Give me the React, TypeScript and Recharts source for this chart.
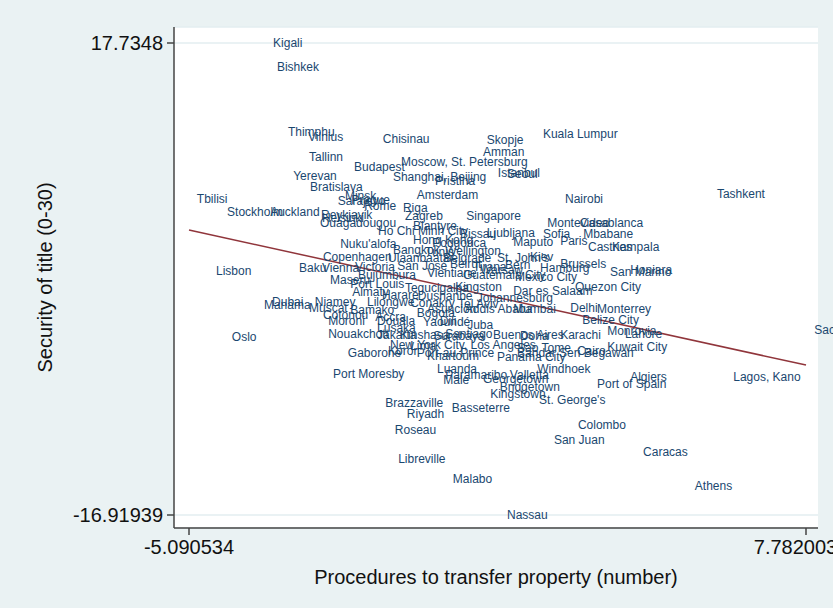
import React from "react";
import {
  ScatterChart,
  Scatter,
  XAxis,
  YAxis,
  CartesianGrid,
  ReferenceLine,
  Label,
} from "recharts";

// city labels
const cities = [
  "Kigali", "Bishkek", "Thimphu", "Vilnius", "Chisinau", "Skopje", "Kuala Lumpur", "Amman",
  "Tallinn", "Moscow, St. Petersburg", "Budapest", "Yerevan", "Shanghai, Beijing", "Pristina",
  "Istanbul", "Seoul", "Bratislava", "Amsterdam", "Nairobi", "Tashkent", "Tbilisi", "Minsk",
  "Sarajevo", "Prague", "Rome", "Riga", "Stockholm", "Auckland", "Reykjavik", "Helsinki",
  "Ouagadougou", "Zagreb", "Singapore", "Montevideo", "Casablanca", "Mbabane", "Paris",
  "Castries", "Kampala", "Blantyre", "Ho Chi Minh City", "Bissau", "Ljubljana", "Sofia",
  "Maputo", "Hong Kong", "Podgorica", "Nuku'alofa", "Bangkok", "Tunis", "Wellington",
  "Copenhagen", "Ulaanbaatar", "Belgrade", "St. John's", "Kiev", "Brussels", "Honiara",
  "San Marino", "Lisbon", "Baku", "Vienna", "Victoria", "San José", "Tirana", "Hamburg",
  "Bujumbura", "Vientiane", "Guatemala City", "Mexico City", "Maseru", "Port Louis",
  "Kingston", "Almaty", "Harare", "Dushanbe", "Johannesburg", "Dar es Salaam", "Quezon City",
  "Dubai", "Manama", "Niamey", "Lilongwe", "Muscat", "Bamako", "Tel Aviv", "Asuncion",
  "Addis Ababa", "Mumbai", "Delhi", "Monterrey", "Bogota", "Cotonou", "Accra", "Moroni",
  "Douala", "Yaoundé", "Juba", "Belize City", "Lusaka", "Monrovia", "Nouakchott", "Jakarta",
  "Surabaya", "Santiago", "Buenos Aires", "Doha", "Karachi", "Lahore",
  "New York City, Los Angeles", "Sao Tome", "Kuwait City", "Gaborone", "Koror",
  "Port-au-Prince", "Khartoum", "Panama City", "Bandar Seri Begawan", "Cairo", "Windhoek",
  "Port Moresby", "Luanda", "Paramaribo", "Male", "Valletta", "Georgetown", "Algiers",
  "Port of Spain", "Bridgetown", "Kingstown", "St. George's", "Brazzaville", "Riyadh",
  "Basseterre", "Colombo", "Roseau", "San Juan", "Caracas", "Libreville", "Malabo", "Athens",
  "Nassau", "Lagos, Kano", "Sacramento", "Oslo", "Beirut", "Warsaw", "Bern", "Tegucigalpa",
  "Conakry", "Dili", "Kinshasa", "Lima",
];

// procedures to transfer property (residual)
const procedures = [
  -3.42, -3.34, -3.11, -2.69, -1.13, 1.04, 2.21, 0.96,
  -2.67, -0.75, -1.73, -3.0, -0.92, -0.04,
  1.27, 1.46, -2.65, -0.42, 2.67, 5.84, -5.01, -1.92,
  -2.07, -1.79, -1.52, -0.71, -4.38, -3.48, -2.42, -2.4,
  -2.44, -0.67, 0.61, 2.3, 2.98, 3.05, 2.57,
  3.15, 3.65, -0.5, -1.23, 0.48, 1.04, 2.21,
  1.59, -0.5, -0.1, -2.02, -0.92, -0.25, 0.17,
  -2.38, -1.02, 0.13, 1.25, 1.94, 2.57, 4.03,
  3.61, -4.61, -2.88, -2.4, -1.71, -0.83, 0.75, 2.15,
  -1.65, -0.21, 0.54, 1.63, -2.23, -1.81,
  0.38, -1.77, -1.15, -0.4, 0.83, 1.59, 2.88,
  -3.44, -3.61, -2.55, -1.46, -2.67, -1.81, 0.44, -0.21,
  0.58, 1.59, 2.78, 3.34, -0.42, -2.38, -1.29, -2.27,
  -1.25, -0.29, 0.63, 3.03, -1.25, 3.55, -2.27, -1.25,
  -0.08, 0.17, 1.17, 1.73, 2.57, 3.92,
  -0.98, 1.67, 3.55, -1.86, -1.02,
  -0.42, -0.21, 1.25, 1.67, 2.92, 2.09,
  -2.17, 0.0, 0.17, 0.13, 1.52, 0.96, 4.03,
  3.34, 1.31, 1.11, 2.13, -1.08, -0.63,
  0.31, 2.94, -0.88, 2.44, 4.3, -0.81, 0.33, 5.38,
  1.46, 6.18, 7.87, -4.28, 0.27, 0.9, 1.42, -0.67,
  -0.56, 0.06, -0.77, -0.56,
];

// security of title (residual)
const security = [
  17.7348, 15.97, 11.2, 10.83, 10.69, 10.61, 11.05, 9.73,
  9.36, 9.0, 8.63, 7.97, 7.9, 7.6,
  8.19, 8.12, 7.16, 6.57, 6.28, 6.65, 6.28, 6.5,
  6.13, 6.21, 5.77, 5.62, 5.33, 5.33, 5.11, 4.89,
  4.52, 5.03, 5.03, 4.52, 4.52, 3.71, 3.2,
  2.76, 2.76, 4.3, 3.93, 3.71, 3.78, 3.71,
  3.12, 3.27, 3.05, 2.98, 2.54, 2.39, 2.46,
  2.02, 1.95, 1.95, 1.95, 2.02, 1.51, 1.07,
  0.92, 0.99, 1.21, 1.21, 1.29, 1.36, 1.29, 1.21,
  0.7, 0.85, 0.7, 0.55, 0.33, 0.04,
  -0.18, -0.55, -0.77, -0.84, -0.99, -0.47, -0.18,
  -1.28, -1.5, -1.28, -1.28, -1.72, -1.87, -1.43, -1.8,
  -1.8, -1.8, -1.72, -1.8, -2.09, -2.24, -2.38, -2.68,
  -2.68, -2.75, -2.97, -2.6, -3.19, -3.41, -3.63, -3.7,
  -3.78, -3.63, -3.7, -3.78, -3.7, -3.63,
  -4.44, -4.66, -4.59, -5.03, -4.88,
  -5.03, -5.25, -5.32, -5.03, -4.88, -6.2,
  -6.57, -6.2, -6.64, -7.01, -6.64, -6.93, -6.79,
  -7.3, -7.52, -8.04, -8.48, -8.7, -9.5,
  -9.06, -10.31, -10.68, -11.41, -12.29, -12.81, -14.28, -14.79,
  -16.91939, -6.79, -3.34, -3.85, 1.51, 1.07, 1.44, -0.25,
  -1.36, -2.68, -3.7, -4.51,
];

// linear fit end points
const fitX = [-5.090534, 7.782];
const fitY = [4.0, -5.91];

const xTicks = [-5.090534, 7.782];
const xTickLabels = ["-5.090534", "7.782003"];
const yTicks = [-16.91939, 17.7348];
const yTickLabels = ["-16.91939", "17.7348"];

const xDomain = [-5.4035, 8.0324];
const yDomain = [-17.874, 18.9096];

const points = cities.map((city, i) => ({ city, x: procedures[i], y: security[i] }));

const FONT = "'Liberation Sans', Arial, Helvetica, sans-serif";

function CityLabel(props: any) {
  const { cx, cy, payload } = props;
  return (
    <text
      x={cx}
      y={cy}
      dx={4}
      dominantBaseline="central"
      fontFamily={FONT}
      fontSize={12}
      fill="#1a476f"
    >
      {payload.city}
    </text>
  );
}

export default function App() {
  return (
    <div
      style={{
        position: "absolute",
        left: 0,
        top: 0,
        width: 833,
        height: 608,
        background: "#eaf2f3",
      }}
    >
      <ScatterChart width={833} height={608} margin={{ top: 27, right: 15, bottom: 0, left: 0 }}>
        <CartesianGrid vertical={false} fill="#ffffff" stroke="#e3eef0" strokeWidth={1.5} />
        <XAxis
          type="number"
          dataKey="x"
          domain={xDomain}
          ticks={xTicks}
          height={80}
          tickSize={7}
          tickMargin={5}
          tickFormatter={(v: number) => xTickLabels[xTicks.indexOf(v)] ?? String(v)}
          tick={{ fill: "#111", fontSize: 20, fontFamily: FONT }}
          stroke="#444"
          strokeWidth={1.5}
        >
          <Label
            content={(p: any) => {
              const vb = p.viewBox;
              return (
                <text
                  x={vb.x + vb.width / 2}
                  y={vb.y + 49}
                  textAnchor="middle"
                  dominantBaseline="central"
                  fontFamily={FONT}
                  fontSize={20}
                  fill="#111"
                >
                  Procedures to transfer property (number)
                </text>
              );
            }}
          />
        </XAxis>
        <YAxis
          type="number"
          dataKey="y"
          domain={yDomain}
          ticks={yTicks}
          width={174}
          tickSize={7}
          tickMargin={4}
          tickFormatter={(v: number) => yTickLabels[yTicks.indexOf(v)] ?? String(v)}
          tick={{ fill: "#111", fontSize: 20, fontFamily: FONT }}
          stroke="#444"
          strokeWidth={1.5}
        >
          <Label
            content={(p: any) => {
              const vb = p.viewBox;
              const cx = vb.x + 45;
              const cy = vb.y + vb.height / 2;
              return (
                <text
                  x={cx}
                  y={cy}
                  transform={`rotate(-90, ${cx}, ${cy})`}
                  textAnchor="middle"
                  dominantBaseline="central"
                  fontFamily={FONT}
                  fontSize={20}
                  fill="#111"
                >
                  Security of title (0-30)
                </text>
              );
            }}
          />
        </YAxis>
        <Scatter data={points} shape={CityLabel} isAnimationActive={false} />
        <ReferenceLine
          segment={[
            { x: fitX[0], y: fitY[0] },
            { x: fitX[1], y: fitY[1] },
          ]}
          stroke="#90353b"
          strokeWidth={1.5}
        />
      </ScatterChart>
    </div>
  );
}
